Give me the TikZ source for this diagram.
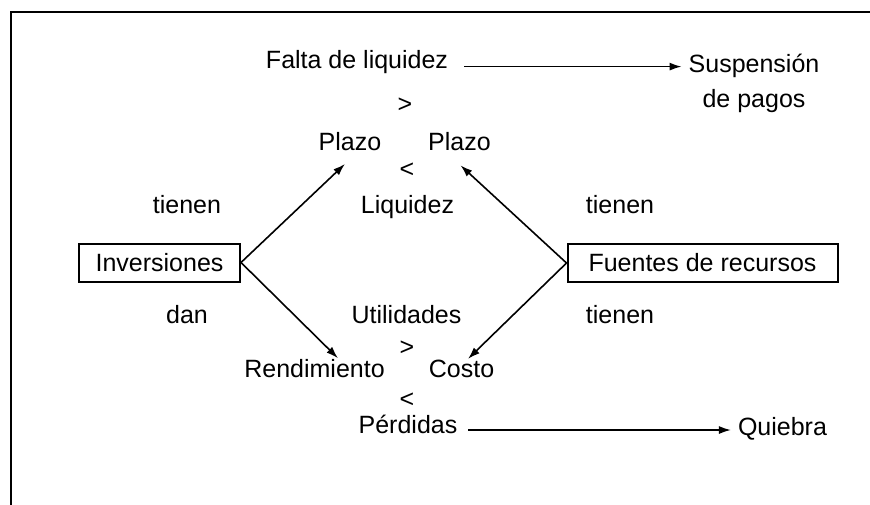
\documentclass[tikz,border=0pt]{standalone}
\usepackage{fontspec}
\setmainfont{Liberation Sans}
\usetikzlibrary{arrows.meta}

\begin{document}
\begin{tikzpicture}[
  x=0.5pt,y=-0.5pt,
  every node/.style={font=\fontsize{12.5}{17.5}\selectfont},
  word/.style={anchor=base},
  sym/.style={anchor=center,inner sep=0pt},
  blk/.style={draw,line width=1pt,minimum height=19pt},
  arr/.style={-{Latex[length=6pt,width=4pt]},line width=0.8pt}
]
\path[use as bounding box] (0,0) rectangle (870,504);
\draw[line width=1.1pt] (11,520) |- (885,12);

% top row
\node[word] (falta) at (357,68) {Falta de liquidez};
\node[align=center] (susp) at (754,83) {Suspensión\\de pagos};
\node[sym] (gtA) at (405,105) {>};

% plazo / liquidez
\node[word] (plazoL) at (350,150) {Plazo};
\node[word] (plazoR) at (459.5,150) {Plazo};
\node[sym] (ltA) at (407,170) {<};
\node[word] (liq) at (407.5,213) {Liquidez};
\node[word] (tienenA) at (187,213) {tienen};
\node[word] (tienenB) at (620,213) {tienen};

% boxes
\node[blk,minimum width=80.5pt] (inv) at (159.5,262.5) {Inversiones};
\node[blk,minimum width=135pt] (fuentes) at (702.5,263) {Fuentes de recursos};

% utilidades / perdidas
\node[word] (dan) at (187,323) {dan};
\node[word] (util) at (406.5,323) {Utilidades};
\node[word] (tienenC) at (620,323) {tienen};
\node[sym] (gtB) at (407,348) {>};
\node[word] (rend) at (314.5,377) {Rendimiento};
\node[word] (costo) at (461.5,377) {Costo};
\node[sym] (ltB) at (407,400) {<};
\node[word] (perd) at (408,433) {Pérdidas};
\node[word] (quiebra) at (782.5,435) {Quiebra};

% connectors
\coordinate (fa) at ([yshift=0.7pt]falta.base east);
\draw[arr,shorten <=4.5pt] (fa) -- (fa -| susp.west);
\coordinate (pa) at ([yshift=1.5pt]perd.base east);
\draw[arr,shorten <=2pt] (pa) -- (pa -| quiebra.west);

\draw[arr] (inv.east) -- ([xshift=-2.5pt,yshift=-3.3pt]plazoL.south);
\draw[arr] (inv.east) -- ([xshift=11.75pt,yshift=-3.2pt]rend.north);
\draw[arr] (fuentes.west) -- ([xshift=0.5pt,yshift=-4pt]plazoR.south);
\draw[arr] (fuentes.west) -- ([xshift=3.25pt,yshift=-3.2pt]costo.north);
\end{tikzpicture}
\end{document}
